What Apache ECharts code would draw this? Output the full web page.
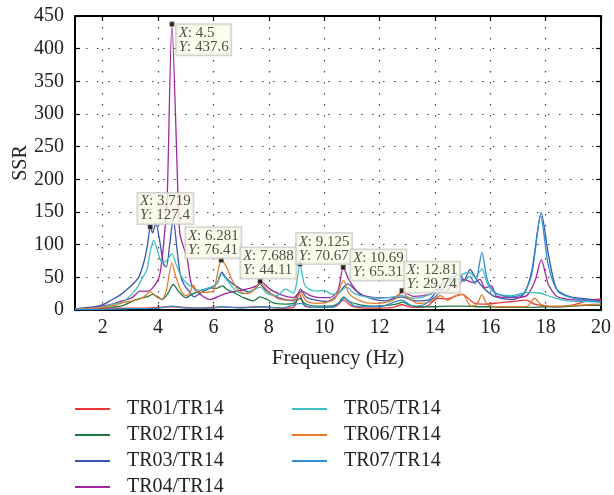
<!DOCTYPE html>
<html>
<head>
<meta charset="utf-8">
<script src="https://cdn.jsdelivr.net/npm/echarts@6/dist/echarts.min.js"></script>
<style>
html,body{margin:0;padding:0;background:#fff;}
#chart{width:614px;height:495px;}
</style>
</head>
<body>
<div id="chart"></div>
<script>
// ---------- data (frequency Hz, SSR) ----------
var seriesNames = ['TR01/TR14','TR02/TR14','TR03/TR14','TR04/TR14','TR05/TR14','TR06/TR14','TR07/TR14'];
var seriesColors = ['#ee3535','#1f7a45','#3d55b0','#a3279c','#3fbfc2','#e27c2e','#2f8fd0'];

var tr01 = [[1,1],[1.5,1.5],[2,2],[2.5,2.5],[3,3],[3.5,3],[4,4],[4.5,5],[5,4],[5.5,3],[6,4],[6.3,5],[6.7,4],[7,4],[7.5,5],[8,4],[8.5,3],[8.9,4],[9.1,25],[9.3,6],[9.6,4],[10,4],[10.4,5],[10.7,15],[11,6],[11.5,3],[12,3],[12.5,4],[12.8,8],[13.2,4],[13.6,5],[13.8,8],[14.1,18],[14.4,17],[14.8,22],[15.0,24],[15.4,11],[15.8,9],[16.3,11],[16.8,13],[17.3,15],[17.6,9],[18,6],[18.5,5],[19,8],[19.5,14],[20,17]];

var tr02 = [[1,1],[1.5,2],[2,4],[2.5,5],[2.8,8],[3.1,14],[3.4,18],[3.6,20],[3.8,24],[4.0,20],[4.15,16],[4.35,25],[4.55,39],[4.75,28],[5.0,19],[5.27,25],[5.5,29],[5.88,34],[6.1,33],[6.32,37],[6.5,31],[6.72,27],[7.08,19],[7.44,14],[7.68,20],[7.9,17],[8.16,11],[8.6,9],[8.9,10],[9.12,18],[9.3,10],[9.7,6],[10.2,6],[10.5,10],[10.7,20],[10.9,13],[11.3,8],[11.8,6],[12.3,7],[12.6,9],[12.85,12],[13.1,7],[13.5,5],[14,5],[14.5,6],[15,6],[15.5,5],[16,5],[16.5,4],[17,4],[17.5,4],[18,5],[18.5,5],[19,6],[19.5,7],[20,7]];

var tr03 = [[1,2],[1.5,4],[2,8],[2.3,15],[2.6,22],[3.0,36],[3.3,50],[3.5,75],[3.62,100],[3.719,127.4],[3.8,118],[3.92,133],[4.05,108],[4.2,70],[4.3,66],[4.42,100],[4.55,140],[4.68,95],[4.8,55],[4.95,38],[5.1,30],[5.3,20],[5.5,25],[5.7,30],[5.95,35],[6.15,42],[6.3,58],[6.45,50],[6.7,40],[7.0,32],[7.3,28],[7.5,32],[7.68,40],[7.9,30],[8.2,22],[8.5,17],[8.9,14],[9.15,32],[9.35,20],[9.7,15],[10.1,13],[10.45,22],[10.85,40],[11.2,28],[11.6,19],[12.2,14],[12.8,20],[13.3,14],[13.8,16],[14.05,28],[14.3,40],[14.6,48],[14.9,55],[15.05,45],[15.27,62],[15.5,47],[15.85,30],[16.2,20],[16.8,16],[17.2,24],[17.5,60],[17.84,149],[18.1,85],[18.4,32],[18.9,20],[19.5,17],[20,14]];

var tr04 = [[1,1],[1.5,3],[2,6],[2.34,9],[2.7,14],[3.06,19],[3.36,29],[3.66,29],[3.9,39],[4.05,52],[4.15,80],[4.25,125],[4.33,170],[4.5,437.6],[4.73,164],[4.79,116],[4.97,90],[5.05,80],[5.21,39],[5.52,24],[5.88,16],[6.36,24],[6.84,29],[7.2,32],[7.56,37],[7.688,44.11],[8.04,32],[8.41,24],[8.89,19],[9.19,29],[9.5,22],[9.85,19],[10.21,19],[10.5,30],[10.69,65.31],[10.85,50],[11.0,39],[11.3,24],[11.9,19],[12.5,19],[12.86,27],[13.22,21],[13.83,24],[14.19,32],[14.37,27],[14.61,37],[14.79,34],[15.03,47],[15.39,42],[15.63,47],[15.81,34],[16.05,37],[16.23,21],[16.83,19],[17.32,22],[17.62,45],[17.84,77],[18.1,39],[18.4,21],[18.88,16],[19.5,15],[20,15]];

var tr05 = [[1,1],[1.5,2],[2,5],[2.4,9],[2.7,12],[3.0,22],[3.24,34],[3.45,50],[3.6,62],[3.72,90],[3.84,107],[3.95,95],[4.1,75],[4.2,72],[4.35,78],[4.5,86],[4.65,70],[4.8,55],[5.0,42],[5.27,34],[5.5,30],[5.8,33],[6.1,40],[6.3,54],[6.5,45],[6.8,30],[7.1,25],[7.4,30],[7.7,35],[7.95,25],[8.3,22],[8.59,32],[8.89,26],[9.0,40],[9.125,70.67],[9.28,40],[9.45,32],[9.75,29],[10.0,30],[10.3,24],[10.55,27],[10.8,35],[11.1,25],[11.5,20],[12,18],[12.5,20],[12.8,22],[13.2,18],[13.6,20],[14,30],[14.3,45],[14.6,52],[14.8,47],[15.0,55],[15.27,57],[15.45,50],[15.7,63],[15.9,40],[16.2,25],[16.8,22],[17.3,27],[17.8,26],[18.2,20],[18.8,14],[19.5,13],[20,12]];

var tr06 = [[1,1],[1.5,2],[2,4],[2.5,8],[2.8,12],[3.1,14],[3.4,18],[3.55,22],[3.7,28],[3.85,24],[4.0,18],[4.15,17],[4.3,30],[4.5,72],[4.65,50],[4.85,28],[5.0,22],[5.15,26],[5.27,38],[5.45,27],[5.64,27],[6.0,29],[6.12,50],[6.281,76.41],[6.45,68],[6.65,48],[6.9,30],[7.2,25],[7.45,30],[7.688,42],[7.95,30],[8.3,18],[8.7,15],[9.0,18],[9.15,27],[9.35,14],[9.7,10],[10.1,12],[10.4,18],[10.7,45],[10.9,25],[11.3,14],[11.8,10],[12.3,12],[12.6,18],[12.81,29.74],[13.0,20],[13.4,10],[13.8,12],[14.0,18],[14.2,22],[14.45,15],[14.75,22],[15.0,24],[15.3,6],[15.5,8],[15.7,23],[15.9,8],[16.3,5],[17,5],[17.35,6],[17.6,18],[17.85,8],[18.3,6],[19,7],[19.5,8],[20,9]];

var tr07 = [[1,0.5],[2,1],[3,2],[4,3],[4.5,6],[5,3],[6,3],[6.3,5],[7,3],[7.7,5],[8.5,3],[9.15,10],[9.5,4],[10.3,4],[10.75,18],[11.1,6],[12,5],[12.8,15],[13.2,6],[13.6,8],[14.0,20],[14.3,32],[14.6,40],[14.9,48],[15.05,44],[15.25,52],[15.45,40],[15.7,88],[15.9,45],[16.2,26],[16.7,20],[17.2,25],[17.5,55],[17.82,144],[18.1,68],[18.45,28],[19,18],[19.5,15],[20,12]];

var allSeries = [tr01, tr02, tr03, tr04, tr05, tr06, tr07];

// data tips
var tipX = [4.5, 3.719, 6.281, 7.688, 9.125, 10.69, 12.81];
var tipY = [437.6, 127.4, 76.41, 44.11, 70.67, 65.31, 29.74];
var tipLabelOffset = [[7.5,3.5],[-9.5,-30.5],[-32.5,-29.5],[-16.5,-30.5],[-0.5,-27.5],[10.5,-14.5],[5.5,-25.5]];

var xTicks = [2,4,6,8,10,12,14,16,18,20];

// ---------- chart ----------
var FONT = '"Liberation Serif", "DejaVu Serif", serif';
var chart = echarts.init(document.getElementById('chart'), null, {renderer:'canvas'});

var series = allSeries.map(function(d, i){
  return {
    name: seriesNames[i], type: 'line', data: d, xAxisIndex: 0, yAxisIndex: 0,
    symbol: 'none', smooth: 0.25, lineStyle: {width: 1.3, color: seriesColors[i]},
    itemStyle: {color: seriesColors[i]}, z: 3 + i
  };
});

series.push({
  name: 'tips', type: 'scatter', xAxisIndex: 0, yAxisIndex: 0, z: 20,
  symbol: 'rect', symbolSize: 5,
  itemStyle: {color: '#000', borderColor: '#e8e8c8', borderWidth: 0.5},
  data: tipX.map(function(x, i){
    return {
      value: [x, tipY[i]],
      label: {position: tipLabelOffset[i]}
    };
  }),
  label: {
    show: true,
    formatter: function(p){
      return '{i|X}{n|: ' + p.value[0] + '}\n{i|Y}{n|: ' + p.value[1] + '}';
    },
    backgroundColor: '#fbfbe8', borderColor: '#c9c9c9', borderWidth: 1.5,
    padding: [1, 2, 1, 2],
    rich: {
      i: {fontFamily: FONT, fontStyle: 'italic', fontSize: 15, color: '#222', lineHeight: 14},
      n: {fontFamily: FONT, fontSize: 15, color: '#222', lineHeight: 14}
    }
  },
  emphasis: {disabled: true}
});

var axisLineStyle = {color: '#000', width: 2};
var tickStyle = {show: true, inside: true, length: 5, lineStyle: {color: '#000', width: 1.2}};
var gridStyle = {show: true, lineStyle: {color: '#444', width: 1.2, type: [1.5, 9.5]}};

var legendCommon = {
  orient: 'vertical', top: 394, height: 110, icon: 'rect',
  itemWidth: 35, itemHeight: 2, itemGap: 6,
  textStyle: {fontFamily: FONT, fontSize: 20, color: '#222', lineHeight: 20, padding: [0,0,0,12]},
  selectedMode: false
};

var option = {
  backgroundColor: '#fff',
  animation: false,
  grid: {left: 75, right: 13, top: 16, bottom: 185, containLabel: false, outerBoundsMode: 'none'},
  xAxis: [{
    type: 'value', min: 1, max: 20, position: 'bottom',
    name: 'Frequency (Hz)', nameLocation: 'middle', nameGap: 38,
    nameTextStyle: {fontFamily: FONT, fontSize: 21, color: '#222'},
    axisLine: {show: true, onZero: false, lineStyle: axisLineStyle},
    axisTick: Object.assign({customValues: xTicks}, tickStyle),
    axisLabel: {customValues: xTicks, fontFamily: FONT, fontSize: 20, color: '#222', margin: 8},
    splitLine: gridStyle
  }, {
    type: 'value', min: 1, max: 20, position: 'top',
    axisLine: {show: true, onZero: false, lineStyle: axisLineStyle},
    axisTick: Object.assign({customValues: xTicks}, tickStyle),
    axisLabel: {show: false},
    splitLine: {show: false}
  }],
  yAxis: [{
    type: 'value', min: 0, max: 450, interval: 50, position: 'left',
    name: 'SSR', nameLocation: 'middle', nameGap: 44, nameRotate: 90, nameMoveOverlap: false,
    nameTextStyle: {fontFamily: FONT, fontSize: 20, color: '#222'},
    axisLine: {show: true, onZero: false, lineStyle: axisLineStyle},
    axisTick: tickStyle,
    axisLabel: {fontFamily: FONT, fontSize: 20, color: '#222', margin: 11},
    splitLine: gridStyle
  }, {
    type: 'value', min: 0, max: 450, interval: 50, position: 'right',
    axisLine: {show: true, onZero: false, lineStyle: axisLineStyle},
    axisTick: tickStyle,
    axisLabel: {show: false},
    splitLine: {show: false}
  }],
  legend: [
    Object.assign({data: seriesNames.slice(0, 4), left: 70}, legendCommon),
    Object.assign({data: seriesNames.slice(4), left: 287}, legendCommon)
  ],
  series: series
};
chart.setOption(option);
</script>
</body>
</html>
